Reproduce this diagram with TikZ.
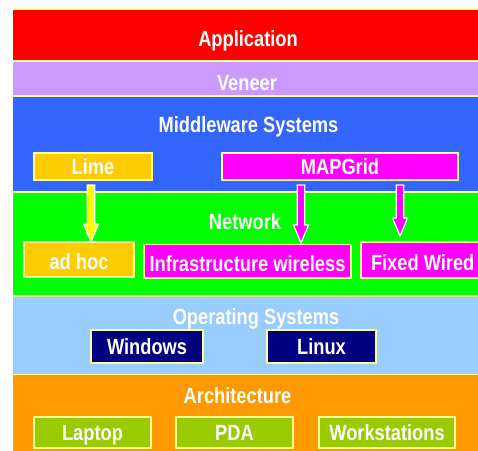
\documentclass[tikz,border=0pt]{standalone}
\usepackage{fontspec}
\setmainfont{Liberation Sans}[FakeStretch=0.83]
\usetikzlibrary{calc}

\definecolor{appred}{RGB}{255,0,0}
\definecolor{veneerlilac}{RGB}{204,153,255}
\definecolor{mwblue}{RGB}{51,102,255}
\definecolor{netgreen}{RGB}{0,255,0}
\definecolor{osblue}{RGB}{153,204,255}
\definecolor{archorange}{RGB}{255,153,0}
\definecolor{limegold}{RGB}{255,204,0}
\definecolor{gridmagenta}{RGB}{255,0,255}
\definecolor{osnavy}{RGB}{0,0,128}
\definecolor{hwgreen}{RGB}{153,204,0}
\definecolor{edgeyellow}{RGB}{255,255,153}
\definecolor{arrowyellow}{RGB}{255,255,0}

% block arrow from #2 down to the tip #3, filled with #1
\newcommand\blockarrow[3]{%
  \draw[arrowline, fill=#1] let \p1=(#2), \p2=(#3) in
    (\x1-3.8pt,\y1) -- (\x1+3.8pt,\y1) -- (\x1+3.8pt,\y2+18pt) --
    (\x1+7.5pt,\y2+18pt) -- (\x1,\y2) -- (\x1-7.5pt,\y2+18pt) --
    (\x1-3.8pt,\y2+18pt) -- cycle;}

\begin{document}
\begin{tikzpicture}[x=1pt,y=-1pt,
  every node/.style={font=\fontsize{22}{26}\selectfont\bfseries, text=white},
  band/.style={anchor=north west, minimum width=480pt, inner sep=0pt,
    outer sep=0pt, fill=#1},
  bandline/.style={draw=edgeyellow, line width=1.6pt},
  headtext/.style={anchor=base, inner sep=0pt},
  subbox/.style={draw=edgeyellow, line width=1.2pt, fill=#1, inner sep=0pt,
    outer sep=0pt, text height=16pt, text depth=0pt},
  netbox/.style={subbox=#1, text height=20pt},
  arrowline/.style={draw=white, line width=1.2pt, line join=miter},
]
\fill[white] (0,0) rectangle (478,450);
\useasboundingbox (0,0) rectangle (478,450);

% layer bands
\node[band=appred, minimum height=52pt] (app) at (13,9) {};
\node[band=veneerlilac, minimum height=35pt] (ven) at (13,61) {};
\node[band=mwblue, minimum height=96pt] (mw) at (13,96) {};
\node[band=netgreen, minimum height=104pt] (net) at (13,192) {};
\node[band=osblue, minimum height=78.5pt] (os) at (13,296) {};
\node[band=archorange, minimum height=90pt] (arch) at (13,374.5) {};
\foreach \b in {app,ven,mw,net,os,arch}
  \draw[bandline] (\b.north west) -- (\b.north east);

% layer titles
\node[headtext] (tapp) at (248,46.7) {Application};
\node[headtext] (tven) at (247,90) {Veneer};
\node[headtext] (tmw) at (248.5,132.5) {Middleware Systems};
\node[headtext] (tnet) at (245,229) {Network};
\node[headtext] (tos) at (256,324.3) {Operating Systems};
\node[headtext] (tarch) at (237.5,403.3) {Architecture};

% middleware
\node[subbox=limegold, minimum width=118pt, minimum height=27pt] (lime) at (93,166.5) {Lime};
\node[subbox=gridmagenta, minimum width=236pt, minimum height=27pt] (mapgrid) at (340,166.5) {MAPGrid};

% network
\node[netbox=limegold, minimum width=110pt, minimum height=35pt] (adhoc) at (79,259.5) {ad hoc};
\node[netbox=gridmagenta, minimum width=207pt, minimum height=33.5pt] (infra) at (247.5,261.25) {Infrastructure wireless};
\node[netbox=gridmagenta, anchor=west, inner xsep=10pt, minimum height=36pt] (fixed) at (361,260) {Fixed Wired};

% operating systems
\node[subbox=osnavy, minimum width=112pt, minimum height=33pt] (windows) at (147,346.5) {Windows};
\node[subbox=osnavy, minimum width=109pt, minimum height=33pt] (linux) at (321.5,346.5) {Linux};

% architecture
\node[subbox=hwgreen, minimum width=117pt, minimum height=31pt] (laptop) at (92.5,432.5) {Laptop};
\node[subbox=hwgreen, minimum width=117pt, minimum height=31pt] (pda) at (234.5,432.5) {PDA};
\node[subbox=hwgreen, minimum width=136pt, minimum height=31pt] (workst) at (387,432.5) {Workstations};

% arrows from middleware to network
\coordinate (ax1) at (91,0);
\coordinate (ax2) at (301,0);
\coordinate (ax3) at (400,0);
\coordinate (a1s) at ($(lime.south -| ax1)+(0,5)$);
\coordinate (a1e) at (adhoc.north -| ax1);
\coordinate (a2s) at ($(mapgrid.south -| ax2)+(0,5)$);
\coordinate (a2e) at ($(infra.north -| ax2)+(0,-1.5)$);
\coordinate (a3s) at ($(mapgrid.south -| ax3)+(0,5)$);
\coordinate (a3e) at ($(fixed.north -| ax3)+(0,-6)$);
\blockarrow{arrowyellow}{a1s}{a1e}
\blockarrow{gridmagenta}{a2s}{a2e}
\blockarrow{gridmagenta}{a3s}{a3e}
\end{tikzpicture}
\end{document}
